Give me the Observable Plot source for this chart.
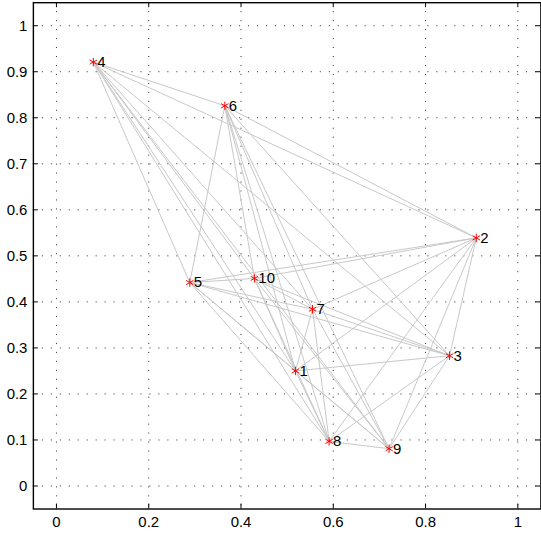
<!DOCTYPE html>
<html>
<head>
<meta charset="utf-8">
<script src="https://cdn.jsdelivr.net/npm/d3@7"></script>
<script src="https://cdn.jsdelivr.net/npm/@observablehq/plot@0.6"></script>
<style>
  html, body { margin: 0; padding: 0; overflow: hidden; background: #fff; }
</style>
</head>
<body>
<div id="chart"></div>
<script>
// Node labels and positions
const nodeIds = [1, 2, 3, 4, 5, 6, 7, 8, 9, 10];
const nodeX = [0.518, 0.910, 0.852, 0.080, 0.289, 0.365, 0.555, 0.591, 0.721, 0.429];
const nodeY = [0.250, 0.539, 0.283, 0.921, 0.442, 0.826, 0.384, 0.097, 0.081, 0.451];

// Edges (pairs of node ids)
const edgeFrom = [1,1,1,1,1,1,1,1,1, 2,2,2,2,2,2,2,2, 3,3,3,3,3,3,3, 4,4,4,4,4,4, 5,5,5,5,5, 6,6,6,6, 7,7,7, 8,8, 9];
const edgeTo   = [2,3,4,5,6,7,8,9,10, 3,4,5,6,7,8,9,10, 4,5,6,7,8,9,10, 5,6,7,8,9,10, 6,7,8,9,10, 7,8,9,10, 8,9,10, 9,10, 10];

// Axis ticks
const xTicks = [0, 0.2, 0.4, 0.6, 0.8, 1];
const yTicks = [0, 0.1, 0.2, 0.3, 0.4, 0.5, 0.6, 0.7, 0.8, 0.9, 1];
const axisDomain = [-0.05, 1.05];

const nodes = nodeIds.map((id, i) => ({id, x: nodeX[i], y: nodeY[i]}));
const byId = new Map(nodes.map(n => [n.id, n]));
const edges = edgeFrom.map((a, i) => ({a: byId.get(a), b: byId.get(edgeTo[i])}));

const W = 543, H = 537, mL = 33, mR = 0.6, mT = 2.2, mB = 26.6;
const frameW = W - mL - mR, frameH = H - mT - mB, tick = 5;
const fmt = d => String(d);

const chart = Plot.plot({
  width: W, height: H,
  marginLeft: mL, marginRight: mR, marginTop: mT, marginBottom: mB,
  x: {domain: axisDomain, label: null},
  y: {domain: axisDomain, label: null},
  style: {fontFamily: "'Liberation Sans', Arial, sans-serif", fontSize: "15px", background: "#fff", color: "#000"},
  marks: [
    Plot.gridX(xTicks, {stroke: "#000", strokeOpacity: 0.85, strokeDasharray: "1,8"}),
    Plot.gridY(yTicks, {stroke: "#000", strokeOpacity: 0.85, strokeDasharray: "1,8"}),
    Plot.link(edges, {x1: d => d.a.x, y1: d => d.a.y, x2: d => d.b.x, y2: d => d.b.y, stroke: "#c8c8c8", strokeWidth: 1}),
    Plot.dot(nodes, {x: "x", y: "y", symbol: "asterisk", r: 4, stroke: "#ff0000", strokeWidth: 1}),
    Plot.text(nodes, {x: "x", y: "y", text: d => String(d.id), dx: 4, textAnchor: "start", fontSize: 15, fill: "#000"}),
    Plot.tickX(xTicks, {x: d => d, insetTop: frameH - tick, stroke: "#000"}),
    Plot.tickX(xTicks, {x: d => d, insetBottom: frameH - tick, stroke: "#000"}),
    Plot.tickY(yTicks, {y: d => d, insetRight: frameW - tick, stroke: "#000"}),
    Plot.tickY(yTicks, {y: d => d, insetLeft: frameW - tick, stroke: "#000"}),
    Plot.axisX(xTicks, {tickSize: 0, tickPadding: 7.5, fontSize: 15, tickFormat: fmt, label: null}),
    Plot.axisY(yTicks, {tickSize: 0, tickPadding: 6, fontSize: 15, tickFormat: fmt, label: null}),
    Plot.frame({stroke: "#000", strokeWidth: 1.4})
  ]
});
document.getElementById("chart").append(chart);
</script>
</body>
</html>
